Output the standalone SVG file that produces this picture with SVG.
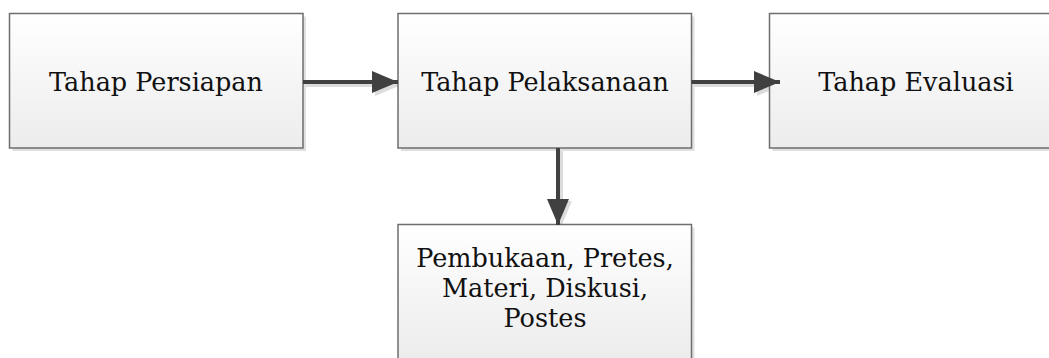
<svg xmlns="http://www.w3.org/2000/svg" width="1049" height="358" viewBox="0 0 1049 358">
<defs>
<linearGradient id="g" x1="0" y1="0" x2="0" y2="1">
<stop offset="0" stop-color="#ffffff"/>
<stop offset="1" stop-color="#ececec"/>
</linearGradient>
<marker id="ah" markerWidth="26" markerHeight="22" refX="26" refY="11" markerUnits="userSpaceOnUse" orient="auto">
<path d="M0,0 L26,11 L0,22 Z" fill="#404040"/>
</marker>
<marker id="ahs" markerWidth="26" markerHeight="22" refX="26" refY="11" markerUnits="userSpaceOnUse" orient="auto">
<path d="M0,0 L26,11 L0,22 Z" fill="#dcdcdc"/>
</marker>
</defs>
<style>
.shadow{fill:#e0e0e0}
.box{fill:url(#g);stroke:#6e6e6e;stroke-width:1.5}
.t{font-family:"DejaVu Serif","Liberation Serif",serif;font-size:25.5px;fill:#111;text-anchor:middle}
.c{stroke:#404040;stroke-width:4;fill:none;marker-end:url(#ah)}
.cs{stroke:#dcdcdc;stroke-width:4;fill:none;marker-end:url(#ahs)}
</style>
<rect width="1049" height="358" fill="#ffffff"/>
<g id="connectors-shadow">
<path class="cs" d="M305,85 H401"/>
<path class="cs" d="M694,85 H783"/>
<path class="cs" d="M561,150 V227"/>
</g>
<g id="n1">
<rect class="shadow" x="12.5" y="16.5" width="293.5" height="134.5"/>
<rect class="box" x="9.5" y="13.5" width="293.5" height="134.5"/>
<text class="t" x="156" y="90.5">Tahap Persiapan</text>
</g>
<g id="n2">
<rect class="shadow" x="401" y="16.5" width="293.5" height="134.5"/>
<rect class="box" x="398" y="13.5" width="293.5" height="134.5"/>
<text class="t" x="545" y="90.5">Tahap Pelaksanaan</text>
</g>
<g id="n3">
<rect class="shadow" x="772.5" y="16.5" width="293.5" height="134.5"/>
<rect class="box" x="769.5" y="13.5" width="293.5" height="134.5"/>
<text class="t" x="916" y="90.5">Tahap Evaluasi</text>
</g>
<g id="n4">
<rect class="shadow" x="401" y="227.5" width="293.5" height="134.5"/>
<rect class="box" x="398" y="224.5" width="293.5" height="134.5"/>
<text class="t" x="545" y="266.5">Pembukaan, Pretes,</text>
<text class="t" x="545" y="296.5">Materi, Diskusi,</text>
<text class="t" x="545" y="326.5">Postes</text>
</g>
<g id="connectors">
<path class="c" d="M303,82 H398"/>
<path class="c" d="M691.5,82 H780"/>
<path class="c" d="M558,148 V225"/>
</g>
</svg>
